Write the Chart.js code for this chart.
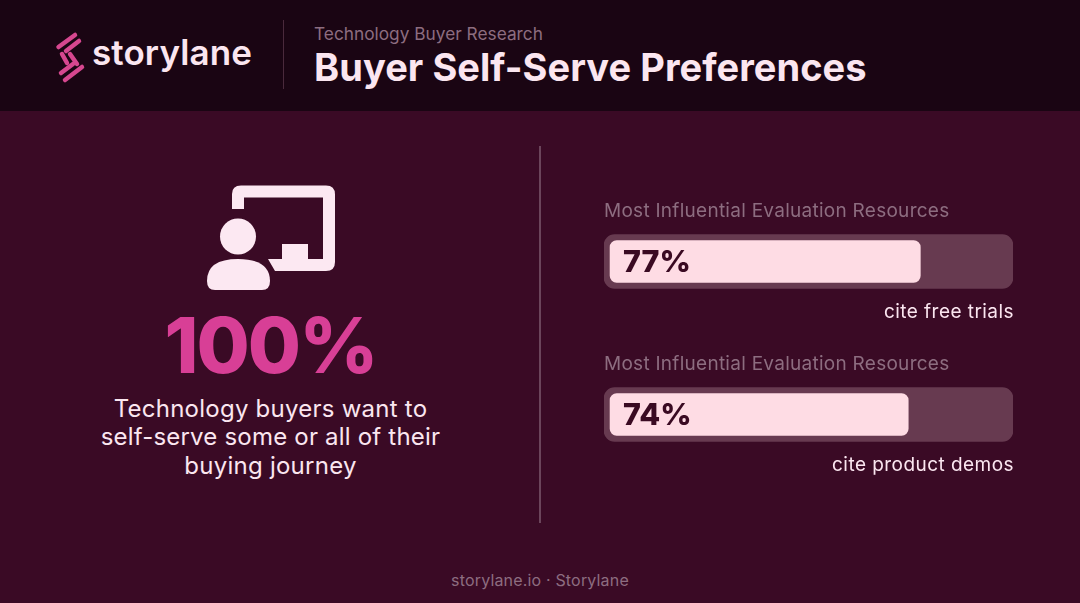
<!DOCTYPE html>
<html>
<head>
<meta charset="utf-8">
<title>Buyer Self-Serve Preferences</title>
<script src="https://cdn.jsdelivr.net/npm/chart.js@4"></script>
<style>
  html, body { margin: 0; padding: 0; }
  body { width: 1080px; height: 603px; overflow: hidden; background: #3a0a25; position: relative; font-family: 'Inter', sans-serif; }
  .txt { position: absolute; white-space: nowrap; }
  #head { position: absolute; left: 0; top: 0; width: 1080px; height: 111px; background: #1a0513; }
  #chartBox { position: absolute; left: 604px; top: 185px; width: 409px; height: 306px; }
</style>
</head>
<body>
<div id="head"></div>

<svg style="position:absolute;left:0;top:0" width="1080" height="603">
  <!-- logo -->
  <g stroke="#d6478f" stroke-width="4.500" stroke-linecap="round">
    <line x1="58.500" y1="47" x2="75" y2="35"/>
    <line x1="66" y1="51" x2="79" y2="41"/>
    <line x1="62" y1="54" x2="67" y2="63"/>
    <line x1="70" y1="54" x2="77" y2="64"/>
    <line x1="61" y1="73" x2="73" y2="64"/>
    <line x1="65" y1="80" x2="82" y2="67"/>
  </g>
  <line x1="283.500" y1="20" x2="283.500" y2="89" stroke="#4a2a3c"/>
  <line x1="540" y1="146" x2="540" y2="523" stroke="#7d5a6e" stroke-width="1.500"/>
  <!-- presenter icon -->
  <g fill="#fce8f2">
    <path d="M232 209V194Q232 185.500 241 185.500H326Q335 185.500 335 194.500V262Q335 271 326 271H281Q277 271 275 271L268 259H282V244H308V259H323V197.500H244V209Z"/>
    <circle cx="238" cy="236.500" r="18"/>
    <path d="M207 281Q207 259 238 259Q270 259 270 281Q270 290 262 290H215Q207 290 207 281Z"/>
  </g>
</svg>

<div class="txt" style="left:92px;top:35px;font:600 35px/1 'Inter',sans-serif;letter-spacing:.1px;color:#fbe6f0">storylane</div>
<div class="txt" style="left:314px;top:25px;font:400 17.300px/1 'Inter',sans-serif;color:#8d6d80">Technology Buyer Research</div>
<div class="txt" style="left:314px;top:48px;font:700 38px/1 'Inter',sans-serif;color:#fbe6f0;letter-spacing:.05px">Buyer Self-Serve Preferences</div>

<div class="txt" style="left:0;width:541px;text-align:center;top:307px;font:800 77px/1 'Inter',sans-serif;color:#d83f96;letter-spacing:-2px">100%</div>
<div class="txt" style="left:0;width:541px;text-align:center;top:397px;font:400 24px/1 'Inter',sans-serif;letter-spacing:.25px;color:#fbe6f0">Technology buyers want to</div>
<div class="txt" style="left:0;width:541px;text-align:center;top:425px;font:400 24px/1 'Inter',sans-serif;letter-spacing:.2px;color:#fbe6f0">self-serve some or all of their</div>
<div class="txt" style="left:0;width:541px;text-align:center;top:454px;font:400 24px/1 'Inter',sans-serif;letter-spacing:.25px;color:#fbe6f0">buying journey</div>

<div class="txt" style="left:0;width:1080px;text-align:center;top:572px;font:400 16px/1 'Inter',sans-serif;letter-spacing:.17px;color:#8d6d80">storylane.io · Storylane</div>

<div id="chartBox"><canvas id="barChart" width="409" height="306"></canvas></div>

<script>
const categories = ['cite free trials', 'cite product demos'];
const headings = ['Most Influential Evaluation Resources', 'Most Influential Evaluation Resources'];
const shareValues = [77, 74];
const fullScale = [100, 100];

// prints the value inside each bar, the heading above and the caption below
const barText = {
  id: 'barText',
  afterDatasetsDraw(chart) {
    const { ctx, chartArea } = chart;
    const bars = chart.getDatasetMeta(0).data;
    ctx.save();
    ctx.textBaseline = 'middle';
    bars.forEach((bar, i) => {
      ctx.textAlign = 'left';
      ctx.letterSpacing = '0px';
      ctx.font = "800 30.500px 'Inter', sans-serif";
      ctx.fillStyle = '#3a0a22';
      ctx.fillText(shareValues[i] + '%', chartArea.left + 19, bar.y + 1);

      ctx.letterSpacing = '0.270px';
      ctx.font = "400 19px 'Inter', sans-serif";
      ctx.fillStyle = '#8d6d80';
      ctx.fillText(headings[i], chartArea.left, bar.y - 50);

      ctx.textAlign = 'right';
      ctx.letterSpacing = '0.450px';
      ctx.fillStyle = '#fbe6f0';
      ctx.fillText(categories[i], chartArea.right + 1, bar.y + 50.5);
    });
    ctx.restore();
  }
};

new Chart(document.getElementById('barChart'), {
  type: 'bar',
  data: {
    labels: categories,
    datasets: [
      {
        label: 'Share of buyers',
        data: shareValues,
        backgroundColor: '#fedce4',
        barThickness: 42,
        borderRadius: 7,
        borderSkipped: false,
        grouped: false,
        order: 1
      },
      {
        label: 'Track',
        data: fullScale,
        base: -1.5,
        backgroundColor: '#673a50',
        barThickness: 54,
        borderRadius: 11,
        borderSkipped: false,
        grouped: false,
        order: 2
      }
    ]
  },
  options: {
    indexAxis: 'y',
    responsive: false,
    animation: false,
    plugins: { legend: { display: false }, tooltip: { enabled: false } },
    scales: {
      x: { display: false, min: -1.5, max: 100 },
      y: { display: false }
    },
    layout: { padding: 0 }
  },
  plugins: [barText]
});
</script>
</body>
</html>
